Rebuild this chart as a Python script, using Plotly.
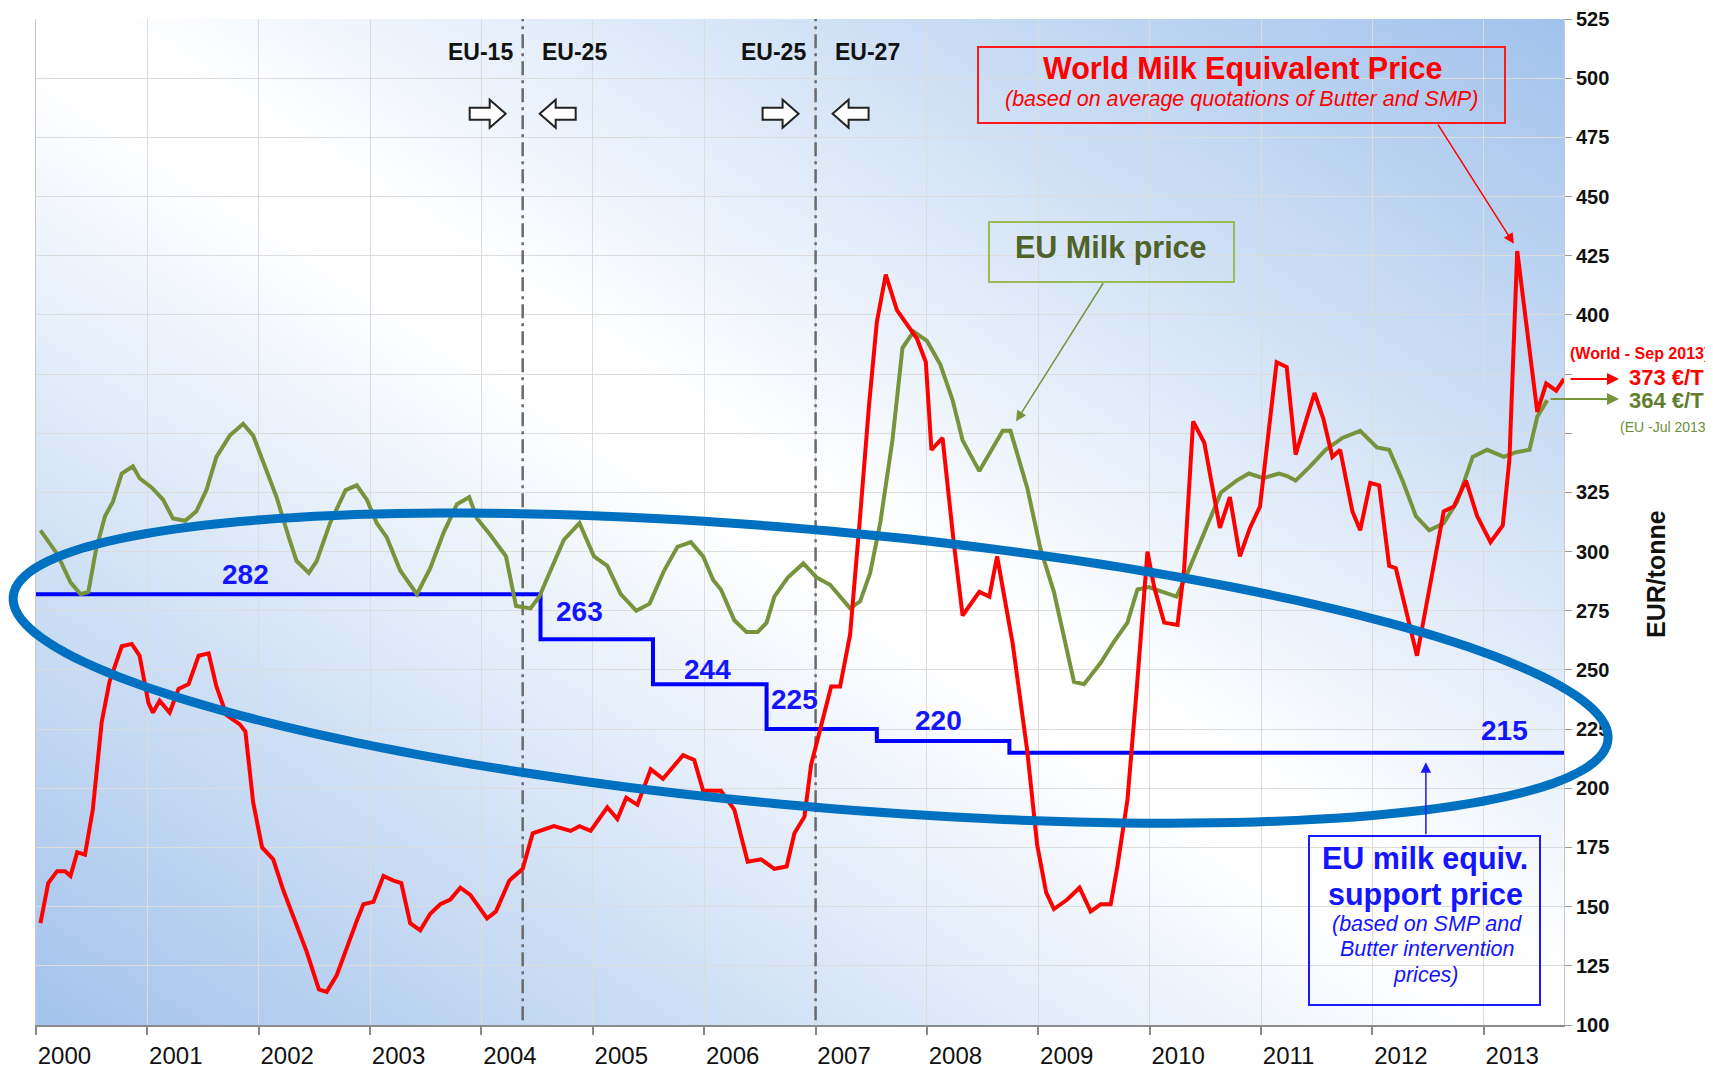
"""World vs EU milk prices with the EU support price (2000-2013)."""

import base64

import numpy as np
import plotly.graph_objects as go

# ---- values (decimal year, EUR/tonne) ----
world_t = [
    2000.04, 2000.11, 2000.19, 2000.26, 2000.31, 2000.37, 2000.44, 2000.51, 2000.59, 2000.66,
    2000.77, 2000.86, 2000.93, 2001.01, 2001.05, 2001.11, 2001.20, 2001.28, 2001.37, 2001.46,
    2001.55, 2001.62, 2001.71, 2001.83, 2001.88, 2001.95, 2002.03, 2002.13, 2002.22, 2002.34,
    2002.43, 2002.54, 2002.61, 2002.70, 2002.79, 2002.88, 2002.94, 2003.03, 2003.12, 2003.21,
    2003.28, 2003.36, 2003.45, 2003.54, 2003.63, 2003.72, 2003.81, 2003.90, 2004.05, 2004.13,
    2004.25, 2004.37, 2004.46, 2004.53, 2004.65, 2004.80, 2004.88, 2004.98, 2005.13, 2005.22,
    2005.30, 2005.40, 2005.52, 2005.63, 2005.81, 2005.91, 2005.99, 2006.15, 2006.27, 2006.39,
    2006.51, 2006.63, 2006.74, 2006.81, 2006.90, 2006.96, 2007.04, 2007.14, 2007.22, 2007.31,
    2007.40, 2007.48, 2007.55, 2007.63, 2007.73, 2007.82, 2007.91, 2007.99, 2008.04, 2008.14,
    2008.24, 2008.32, 2008.47, 2008.56, 2008.63, 2008.77, 2008.90, 2008.99, 2009.07, 2009.14,
    2009.26, 2009.37, 2009.47, 2009.56, 2009.65, 2009.71, 2009.80, 2009.88, 2009.94, 2009.98,
    2010.04, 2010.13, 2010.25, 2010.31, 2010.39, 2010.49, 2010.63, 2010.72, 2010.81, 2010.90,
    2010.99, 2011.07, 2011.14, 2011.23, 2011.31, 2011.48, 2011.56, 2011.64, 2011.71, 2011.82,
    2011.89, 2011.98, 2012.06, 2012.15, 2012.21, 2012.40, 2012.64, 2012.73, 2012.84, 2012.94,
    2013.06, 2013.17, 2013.23, 2013.30, 2013.48, 2013.56, 2013.65, 2013.72,
]
world_price = [
    143, 160, 165, 165, 163, 173, 172, 191, 228, 245,
    260, 261, 256, 236, 232, 237, 232, 242, 244, 256,
    257, 243, 231, 227, 224, 194, 175, 170, 157, 142,
    131, 115, 114, 121, 133, 144, 151, 152, 163, 161,
    160, 143, 140, 147, 151, 153, 158, 155, 145, 148,
    161, 166, 181, 182, 184, 182, 184, 182, 192, 187,
    196, 193, 208, 204, 214, 212, 199, 199, 191, 169,
    170, 166, 167, 181, 188, 210, 225, 243, 243, 265,
    315, 362, 397, 417, 402, 396, 390, 380, 343, 348,
    304, 273, 283, 281, 298, 261, 216, 176, 156, 149,
    153, 158, 148, 151, 151, 167, 195, 240, 274, 300,
    285, 270, 269, 293, 355, 346, 310, 323, 298, 310,
    319, 351, 380, 378, 341, 367, 356, 340, 343, 317,
    309, 329, 328, 294, 293, 256, 317, 319, 330, 315,
    304, 311, 339, 427, 359, 371, 368, 373,
]

eu_t = [
    2000.04, 2000.19, 2000.31, 2000.40, 2000.47, 2000.54, 2000.62, 2000.69, 2000.77, 2000.87,
    2000.93, 2001.04, 2001.14, 2001.23, 2001.34, 2001.44, 2001.53, 2001.62, 2001.74, 2001.86,
    2001.95, 2002.06, 2002.16, 2002.27, 2002.34, 2002.45, 2002.52, 2002.64, 2002.78, 2002.88,
    2002.97, 2003.06, 2003.15, 2003.27, 2003.42, 2003.54, 2003.66, 2003.78, 2003.89, 2003.96,
    2004.08, 2004.22, 2004.31, 2004.44, 2004.52, 2004.62, 2004.74, 2004.88, 2005.01, 2005.13,
    2005.25, 2005.39, 2005.51, 2005.64, 2005.76, 2005.88, 2005.99, 2006.08, 2006.15, 2006.27,
    2006.38, 2006.48, 2006.56, 2006.63, 2006.75, 2006.89, 2007.01, 2007.13, 2007.31, 2007.40,
    2007.49, 2007.58, 2007.69, 2007.78, 2007.88, 2008.00, 2008.12, 2008.23, 2008.32, 2008.47,
    2008.68, 2008.75, 2008.90, 2009.02, 2009.14, 2009.32, 2009.41, 2009.56, 2009.68, 2009.80,
    2009.89, 2009.99, 2010.13, 2010.24, 2010.34, 2010.49, 2010.64, 2010.78, 2010.89, 2011.02,
    2011.16, 2011.23, 2011.31, 2011.44, 2011.58, 2011.73, 2011.89, 2012.04, 2012.15, 2012.27,
    2012.39, 2012.51, 2012.64, 2012.76, 2012.90, 2013.03, 2013.18, 2013.29, 2013.41, 2013.48,
    2013.57,
]
eu_price = [
    309, 299, 287, 282, 283, 301, 315, 321, 333, 336,
    331, 327, 322, 314, 313, 317, 326, 340, 349, 354,
    349, 335, 323, 306, 296, 291, 296, 312, 326, 328,
    322, 312, 306, 292, 282, 293, 308, 320, 323, 314,
    307, 298, 277, 276, 281, 292, 305, 312, 298, 294,
    282, 275, 278, 292, 302, 304, 298, 288, 284, 271,
    266, 266, 270, 281, 289, 295, 289, 286, 276, 279,
    291, 312, 347, 386, 393, 389, 379, 364, 347, 334,
    351, 351, 327, 301, 283, 245, 244, 253, 262, 270,
    284, 285, 283, 281, 291, 308, 325, 330, 333, 331,
    333, 332, 330, 336, 343, 348, 351, 344, 343, 330,
    315, 309, 312, 321, 340, 343, 340, 342, 343, 357,
    364,
]

# EU milk equivalent support price: level valid from each start date
support_start = [2000.0, 2004.53, 2005.54, 2006.56, 2007.55, 2008.74]
support_price = [282, 263, 244, 225, 220, 215]
x_end = 2013.72

years = list(range(2000, 2014))
price_ticks = list(range(100, 526, 25))
unlabelled_ticks = [350, 375]

enlargement_dates = [2004.37, 2007.0]
enlargement_labels = [("EU-15", "EU-25"), ("EU-25", "EU-27")]

world_last = "373 €/T"
eu_last = "364 €/T"

# ---- page geometry (page pixels; the page body has an 8px margin) ----
BODY = 8
W, H = 1713 - BODY, 1070 - BODY
PL, PR, PT, PB = 36, 1564, 19, 1025
FONT = "Liberation Sans, Arial, sans-serif"


def px(x):
    return (x - PL) / (PR - PL)


def py(y):
    return (PB - y) / (PB - PT)


# diagonal blue-white-blue background of the plot area
svg = (
    '<svg xmlns="http://www.w3.org/2000/svg" width="1528" height="1006" '
    'preserveAspectRatio="none"><defs><linearGradient id="g" x1="0" y1="1" x2="1" y2="0">'
    '<stop offset="0" stop-color="#a3c3ec"/><stop offset="0.48" stop-color="#ffffff"/>'
    '<stop offset="0.52" stop-color="#ffffff"/><stop offset="1" stop-color="#a1c2ec"/>'
    '</linearGradient></defs><rect width="100%" height="100%" fill="url(#g)"/></svg>'
)
bg_src = "data:image/svg+xml;base64," + base64.b64encode(svg.encode()).decode()

fig = go.Figure()
fig.add_trace(go.Scatter(
    x=support_start + [x_end], y=support_price + [support_price[-1]],
    mode="lines", line=dict(color="#0000ff", width=4, shape="hv"),
    name="EU support price",
))
fig.add_trace(go.Scatter(
    x=eu_t, y=eu_price, mode="lines",
    line=dict(color="#77933c", width=4), name="EU Milk price",
))
fig.add_trace(go.Scatter(
    x=world_t, y=world_price, mode="lines",
    line=dict(color="#ff0000", width=4), name="World Milk Equivalent Price",
))

shapes = []
annotations = []

# enlargement markers
for t, (before, after) in zip(enlargement_dates, enlargement_labels):
    shapes.append(dict(
        type="line", xref="x", yref="y", x0=t, x1=t, y0=102, y1=525, layer="between",
        line=dict(color="#6a6a6a", width=2.5, dash="14px,5px,3px,5px"),
    ))
    annotations.append(dict(x=t, y=511, xref="x", yref="y", text=before, showarrow=False,
                            xanchor="right", xshift=-8,
                            font=dict(family=FONT, size=23, color="#111111", weight="bold")))
    annotations.append(dict(x=t, y=511, xref="x", yref="y", text=after, showarrow=False,
                            xanchor="left", xshift=17,
                            font=dict(family=FONT, size=23, color="#111111", weight="bold")))
    # hollow block arrows pointing at the dividing line from both sides
    for side in (-1, 1):
        pts = [(-18, -6), (2, -6), (2, -14), (18, 0), (2, 14), (2, 6), (-18, 6)]
        path = "M " + " L ".join(f"{-side * a + side * 35},{b}" for a, b in pts) + " Z"
        shapes.append(dict(
            type="path", xref="x", yref="y", xsizemode="pixel", ysizemode="pixel",
            xanchor=t, yanchor=485, path=path,
            fillcolor="white", line=dict(color="#222222", width=2),
        ))

# support price labels
label_pos = [(2001.88, 290.5), (2004.88, 274.5), (2006.03, 250), (2006.81, 237.5),
             (2008.10, 228.5), (2013.19, 224.5)]
for (lx, ly), p in zip(label_pos, support_price):
    annotations.append(dict(x=lx, y=ly, xref="x", yref="y", text=str(p), showarrow=False,
                            font=dict(family=FONT, size=28, color="#1414ff", weight="bold")))

# big highlight ellipse
cx, cy, A, C, D = 810.6, 668.1, 797.5, 69.4, 138.7
tt = np.linspace(0, 2 * np.pi, 200)
ex = cx + A * np.cos(tt)
ey = cy + C * np.cos(tt) + D * np.sin(tt)
epath = "M " + " L ".join(f"{px(a):.5f},{py(b):.5f}" for a, b in zip(ex, ey)) + " Z"
shapes.append(dict(type="path", xref="paper", yref="paper", path=epath,
                   line=dict(color="#0070c0", width=9)))

# callout boxes
boxes = [
    ((978, 47, 1505, 123), "#ff1a1a"),
    ((989, 222, 1234, 282), "#9bbb59"),
    ((1309, 836, 1540, 1005), "#1a1aff"),
]
for (x0, y0, x1, y1), col in boxes:
    shapes.append(dict(type="rect", xref="paper", yref="paper",
                       x0=px(x0), x1=px(x1), y0=py(y1), y1=py(y0),
                       line=dict(color=col, width=2)))
shapes.append(dict(type="line", xref="paper", yref="paper", x0=px(787), x1=px(881),
                   y0=py(1), y1=py(1), line=dict(color="#9bbb59", width=2)))


def text_at(x, y, text, size, color, bold=False, italic=False, anchor="center"):
    annotations.append(dict(
        x=px(x), y=py(y), xref="paper", yref="paper", text=text, showarrow=False,
        xanchor=anchor, yanchor="middle",
        font=dict(family=FONT, size=size, color=color,
                  weight="bold" if bold else "normal",
                  style="italic" if italic else "normal"),
    ))


text_at(1242, 69, "World Milk Equivalent Price", 30.5, "#ff0000", bold=True)
text_at(1241, 99, "(based on average quotations of Butter and SMP)", 21.5, "#ff0000", italic=True)
text_at(1111, 247, "EU Milk price", 30.5, "#4f6228", bold=True)
text_at(1425, 858, "EU milk equiv.", 30.5, "#1414ff", bold=True)
text_at(1425, 894, "support price", 30.5, "#1414ff", bold=True)
text_at(1427, 924, "(based on SMP and", 21.5, "#1414ff", italic=True)
text_at(1427, 949, "Butter intervention", 21.5, "#1414ff", italic=True)
text_at(1426, 975, "prices)", 21.5, "#1414ff", italic=True)

# right-hand end values
text_at(1711, 353, "(World - Sep 2013)", 16, "#ff0000", bold=True, anchor="right")
text_at(1627, 377, world_last, 22, "#ff0000", bold=True, anchor="left")
text_at(1627, 401, eu_last, 22, "#5f7f2f", bold=True, anchor="left")
text_at(1712, 427, "(EU -Jul 2013)", 14, "#6b8e3a", anchor="right")
annotations.append(dict(x=px(1619), y=py(379), xref="paper", yref="paper", text="",
                        ax=-50, ay=0, showarrow=True, arrowhead=2, arrowsize=1.2,
                        arrowwidth=2, arrowcolor="#ff0000"))
annotations.append(dict(x=px(1619), y=py(399), xref="paper", yref="paper", text="",
                        ax=-70, ay=0, showarrow=True, arrowhead=2, arrowsize=1.2,
                        arrowwidth=2, arrowcolor="#77933c"))

# y-axis title
annotations.append(dict(x=px(1672), y=py(574), xref="paper", yref="paper", text="EUR/tonne",
                        showarrow=False, textangle=-90,
                        font=dict(family=FONT, size=25, color="#111111", weight="bold")))

# pointers from the callout boxes to the series
for head, tail, col in [
    ((2013.27, 430), (2012.58, 481), "#ff0000"),
    ((2008.80, 355), (2009.59, 414), "#77933c"),
    ((2012.48, 211), (2012.48, 180), "#1a1aff"),
]:
    annotations.append(dict(x=head[0], y=head[1], ax=tail[0], ay=tail[1],
                            xref="x", yref="y", axref="x", ayref="y", text="",
                            showarrow=True, arrowhead=2, arrowsize=1.4, arrowwidth=1.5,
                            arrowcolor=col, standoff=0))

fig.update_layout(
    width=W, height=H,
    margin=dict(l=PL - BODY, r=W + BODY - PR, t=PT - BODY, b=H + BODY - PB),
    paper_bgcolor="white",
    plot_bgcolor="rgba(0,0,0,0)",
    showlegend=False,
    font=dict(family=FONT, color="#111111"),
    images=[dict(source=bg_src, xref="paper", yref="paper", x=0, y=1, sizex=1, sizey=1,
                 sizing="stretch", layer="below")],
    shapes=shapes,
    annotations=annotations,
    xaxis=dict(
        range=[2000, x_end], tickvals=years, ticktext=[str(y) for y in years],
        ticks="outside", ticklen=8, tickcolor="#888888", tickwidth=1.5,
        ticklabelposition="outside right", ticklabelstandoff=8,
        tickfont=dict(family=FONT, size=24, color="#111111"),
        showgrid=True, gridcolor="#dcdcdc", gridwidth=1, automargin=False,
        showline=True, linecolor="#8c8c8c", linewidth=2, zeroline=False,
    ),
    yaxis=dict(
        side="right", range=[100, 525], tickvals=price_ticks,
        ticktext=["" if v in unlabelled_ticks else str(v) for v in price_ticks],
        ticks="outside", ticklen=7, tickcolor="#999999",
        tickfont=dict(family=FONT, size=20, color="#111111", weight="bold"),
        showgrid=True, gridcolor="#dcdcdc", gridwidth=1, automargin=False,
        showline=True, linecolor="#c8c8c8", linewidth=1, mirror=True, zeroline=False,
    ),
)

fig.write_html("out.html")
